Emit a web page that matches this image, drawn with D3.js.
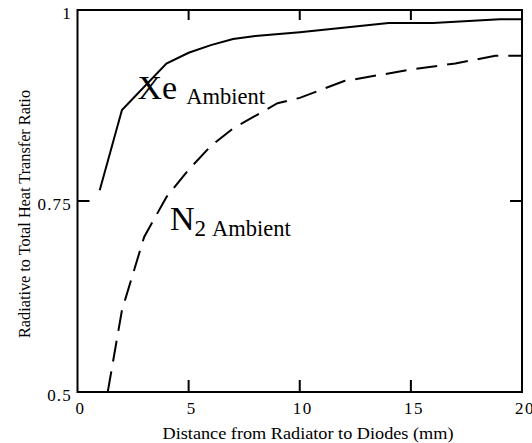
<!DOCTYPE html>
<html>
<head>
<meta charset="utf-8">
<script src="https://cdn.jsdelivr.net/npm/d3@7"></script>
<style>
  html, body { margin: 0; padding: 0; background: #fff; }
  svg { display: block; }
</style>
</head>
<body>
<svg id="chart" width="532" height="443"></svg>
<script>
// ---- data ----
const xeDistance = [1, 2, 4, 5, 6, 7, 8, 10, 14, 16, 19, 20];
const xeRatio    = [0.764, 0.869, 0.930, 0.944, 0.954, 0.962, 0.966, 0.971, 0.983, 0.983, 0.988, 0.988];
const n2Distance = [1.36, 2, 3, 4, 5, 6, 7, 9, 10, 12, 15, 17, 18.8, 20];
const n2Ratio    = [0.5, 0.607, 0.703, 0.755, 0.791, 0.822, 0.845, 0.878, 0.885, 0.907, 0.922, 0.93, 0.94, 0.94];
const xTicks = [0, 5, 10, 15, 20];
const yTicks = [0.5, 0.75, 1];
const yTickLabels = ["0.5", "0.75", "1"];
const xLabel = "Distance from Radiator to Diodes (mm)";
const yLabel = "Radiative to Total Heat Transfer Ratio";

// ---- layout ----
const FONT = "'Liberation Serif', 'DejaVu Serif', serif";
const svg = d3.select("#chart").attr("font-family", FONT);
const L = 77.5, R = 522, T = 10, B = 392;
const x = d3.scaleLinear().domain([0, 20]).range([L, R]);
const y = d3.scaleLinear().domain([0.5, 1]).range([B, T]);

// frame
svg.append("rect").attr("x", L).attr("y", T).attr("width", R - L).attr("height", B - T)
  .attr("fill", "none").attr("stroke", "#000").attr("stroke-width", 2);

// inner ticks
const inner = [5, 10, 15];
svg.selectAll(".bt").data(inner).join("line")
  .attr("x1", d => x(d)).attr("x2", d => x(d)).attr("y1", B).attr("y2", B - 12)
  .attr("stroke", "#000").attr("stroke-width", 2);
svg.selectAll(".tt").data(inner).join("line")
  .attr("x1", d => x(d)).attr("x2", d => x(d)).attr("y1", T).attr("y2", T + 10)
  .attr("stroke", "#000").attr("stroke-width", 2);
svg.selectAll(".lt").data([0.75]).join("line")
  .attr("x1", L).attr("x2", L + 12).attr("y1", d => y(d)).attr("y2", d => y(d))
  .attr("stroke", "#000").attr("stroke-width", 2);
svg.selectAll(".rt").data([0.75]).join("line")
  .attr("x1", R).attr("x2", R - 12).attr("y1", d => y(d)).attr("y2", d => y(d))
  .attr("stroke", "#000").attr("stroke-width", 2);

// tick labels
svg.selectAll(".xl").data(xTicks).join("text")
  .attr("x", d => x(d) + 3).attr("y", 414)
  .attr("text-anchor", "middle").attr("font-size", 17).attr("letter-spacing", 1.5)
  .text(d => d);
svg.selectAll(".yl").data(yTicks).join("text")
  .attr("x", 72).attr("y", d => y(d) + 9)
  .attr("text-anchor", "end").attr("font-size", 17).attr("letter-spacing", 1.2)
  .text((d, i) => yTickLabels[i]);

// axis titles
svg.append("text").attr("x", 162.5).attr("y", 438.5)
  .attr("font-size", 17.6).attr("textLength", 291).attr("lengthAdjust", "spacingAndGlyphs")
  .text(xLabel);
svg.append("text").attr("transform", "translate(30,338) rotate(-90)")
  .attr("font-size", 17.2).attr("textLength", 248).attr("lengthAdjust", "spacingAndGlyphs")
  .text(yLabel);

// curves
const line = d3.line().x(d => x(d[0])).y(d => y(d[1]));
svg.append("path").datum(d3.zip(xeDistance, xeRatio)).attr("d", line)
  .attr("fill", "none").attr("stroke", "#000").attr("stroke-width", 2);
svg.append("path").datum(d3.zip(n2Distance, n2Ratio)).attr("d", line)
  .attr("fill", "none").attr("stroke", "#000").attr("stroke-width", 2)
  .attr("stroke-dasharray", "21,10");

// curve labels
const xeT = svg.append("text").attr("x", 137.5).attr("y", 98.5);
xeT.append("tspan").attr("font-size", 34).text("Xe");
xeT.append("tspan").attr("font-size", 22.5).attr("dx", 9).attr("dy", 5).text("Ambient");
const n2T = svg.append("text").attr("x", 170).attr("y", 230);
n2T.append("tspan").attr("font-size", 34).text("N");
n2T.append("tspan").attr("font-size", 23).attr("dy", 6).text("2");
n2T.append("tspan").attr("font-size", 22.5).attr("dx", 6).text("Ambient");
</script>
</body>
</html>
